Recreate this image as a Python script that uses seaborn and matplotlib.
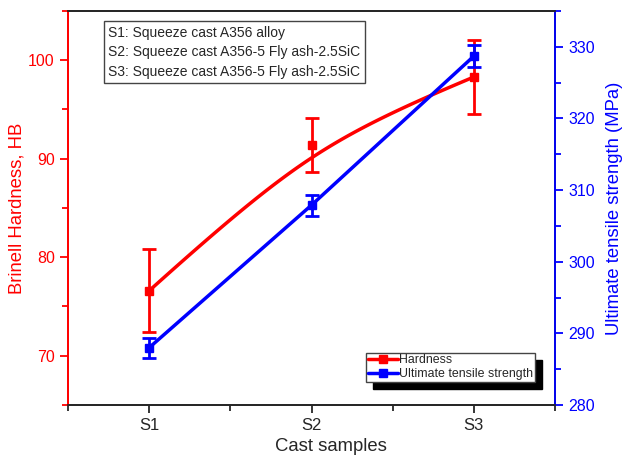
import numpy as np
import pandas as pd
import seaborn as sns
import matplotlib.pyplot as plt
from matplotlib.lines import Line2D
from matplotlib.ticker import MultipleLocator

# datos
samples = ['S1', 'S2', 'S3']
pos = [1, 2, 3]
hardness = [76.6, 91.4, 98.3]
hardness_err = [4.2, 2.7, 3.8]
uts = [288.0, 307.9, 328.7]
uts_err = [1.4, 1.45, 1.5]

sns.set_style('ticks')
plt.rcParams['font.family'] = ['Liberation Sans', 'DejaVu Sans']

red = '#ff0000'
blue = '#0000ff'

fig = plt.figure(figsize=(6.22, 4.61), dpi=100)
ax = fig.add_axes([68 / 622, 1 - 405 / 461, 487 / 622, 394 / 461])
ax2 = ax.twinx()

# curva suave tipo b-spline (bezier racional, los 3 puntos como control)
w = 2.0
t = np.linspace(0, 1, 100)
b0, b1, b2 = (1 - t) ** 2, 2 * (1 - t) * t * w, t ** 2
den = b0 + b1 + b2
bx = (b0 * pos[0] + b1 * pos[1] + b2 * pos[2]) / den
by = (b0 * hardness[0] + b1 * hardness[1] + b2 * hardness[2]) / den
curva = pd.DataFrame({'x': bx, 'y': by})
sns.lineplot(data=curva, x='x', y='y', ax=ax, color=red, lw=2.5, sort=False)
ax.errorbar(pos, hardness, yerr=hardness_err, fmt='s', color=red, ms=6,
            elinewidth=2, capsize=5, capthick=2)

df_uts = pd.DataFrame({'x': pos, 'y': uts})
sns.lineplot(data=df_uts, x='x', y='y', ax=ax2, color=blue, lw=2.5)
ax2.errorbar(pos, uts, yerr=uts_err, fmt='s', color=blue, ms=6,
             elinewidth=2, capsize=5, capthick=2)

ax.set_xlim(0.5, 3.5)
ax.set_ylim(65, 105)
ax2.set_ylim(280, 335)
ax.set_xticks(pos)
ax.set_xticklabels(samples)
ax.xaxis.set_minor_locator(MultipleLocator(0.5))
ax.yaxis.set_major_locator(MultipleLocator(10))
ax.yaxis.set_minor_locator(MultipleLocator(5))
ax2.yaxis.set_major_locator(MultipleLocator(10))
ax2.yaxis.set_minor_locator(MultipleLocator(5))

ax.set_xlabel('Cast samples', fontsize=13.3)
ax.xaxis.set_label_coords(0.54, -0.085)
ax.set_ylabel('Brinell Hardness, HB', fontsize=13.3, color=red, labelpad=2)
ax2.set_ylabel('Ultimate tensile strength (MPa)', fontsize=13.3, color=blue, labelpad=8)

for a in (ax, ax2):
    for s in a.spines.values():
        s.set_linewidth(1.3)
    a.tick_params(which='major', length=6, width=1.3, labelsize=11.5, direction='out')
    a.tick_params(which='minor', length=4, width=1.3, direction='out')
ax.tick_params(axis='x', labelsize=12)
ax.spines['left'].set_color(red)
ax2.spines['left'].set_color(red)
ax2.spines['right'].set_color(blue)
ax.tick_params(axis='y', which='both', colors=red)
ax2.tick_params(axis='y', which='both', colors=blue)

ax.text(0.083, 0.963, 'S1: Squeeze cast A356 alloy\nS2: Squeeze cast A356-5 Fly ash-2.5SiC\nS3: Squeeze cast A356-5 Fly ash-2.5SiC',
        transform=ax.transAxes, fontsize=10, va='top', ha='left', linespacing=1.5,
        bbox=dict(boxstyle='square,pad=0.35', fc='white', ec='#444444', lw=1))

handles = [Line2D([], [], color=red, marker='s', lw=2.5, ms=6),
           Line2D([], [], color=blue, marker='s', lw=2.5, ms=6)]
leg = ax2.legend(handles, ['Hardness', 'Ultimate tensile strength'], loc='lower right',
                 bbox_to_anchor=(0.959, 0.058), borderaxespad=0, fontsize=8.9,
                 handlelength=2.4, handletextpad=0.1, labelspacing=0.15, borderpad=0.15,
                 fancybox=False, framealpha=1, edgecolor='#444444',
                 shadow={'color': 'black', 'alpha': 1, 'ox': 5, 'oy': -5})
leg.get_frame().set_linewidth(1)

fig.savefig('out.png', dpi=100)
